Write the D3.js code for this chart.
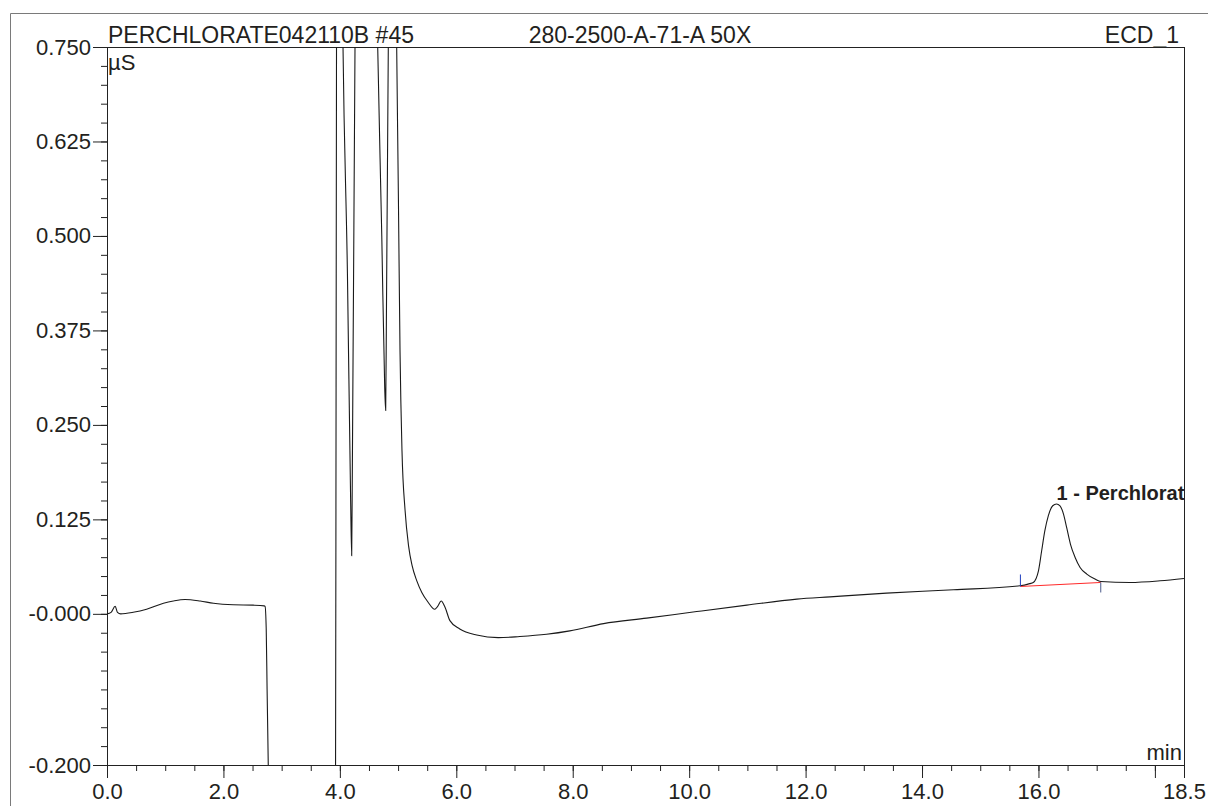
<!DOCTYPE html>
<html>
<head>
<meta charset="utf-8">
<script src="https://cdn.jsdelivr.net/npm/d3@7"></script>
<style>
  html, body { margin: 0; padding: 0; background: #fff; }
  svg { display: block; font-family: "Liberation Sans", Arial, sans-serif; }
</style>
</head>
<body>
<svg id="chart" width="1208" height="806"></svg>
<script>
// ---------- data ----------
const headerLeft = "PERCHLORATE042110B #45";
const headerMid = "280-2500-A-71-A 50X";
const headerRight = "ECD_1";
const yUnit = "µS";
const xUnit = "min";

const xDomain = [0, 18.5];
const yDomain = [-0.2, 0.75];

const xMajorTicks = [0, 2, 4, 6, 8, 10, 12, 14, 16, 18, 18.5];
const xTickLabels = ["0.0", "2.0", "4.0", "6.0", "8.0", "10.0", "12.0", "14.0", "16.0", "", "18.5"];
const xMinorStep = 0.5;

const yMajorTicks = [0.75, 0.625, 0.5, 0.375, 0.25, 0.125, 0.0, -0.2];
const yTickLabels = ["0.750", "0.625", "0.500", "0.375", "0.250", "0.125", "-0.000", "-0.200"];
const yMinorStep = 0.025;

// retention time (min) and conductivity (µS)
const timeMin = [
  0.00, 0.07, 0.14, 0.18, 0.235, 0.45, 0.68, 0.97, 1.14, 1.34, 1.60, 1.83, 2.17, 2.51, 2.70, 2.715,
  2.735, 2.75, 2.77, 2.80, 3.90, 3.925, 3.935, 3.945, 3.98, 4.02, 4.054, 4.13, 4.185, 4.203,
  4.215, 4.26, 4.32, 4.45, 4.58, 4.65, 4.72, 4.77, 4.787, 4.80, 4.832, 4.90, 4.976,
  5.006, 5.033, 5.067, 5.12, 5.18, 5.24, 5.32, 5.41, 5.51, 5.63, 5.68, 5.74, 5.81, 5.89,
  6.06, 6.35, 6.72, 7.09, 7.55, 7.95, 8.53, 9.27, 10.13, 10.99, 11.85, 12.42, 13.39, 14.54,
  15.68, 15.85, 15.91, 16.00, 16.055, 16.11, 16.17, 16.245, 16.31, 16.37, 16.43, 16.485,
  16.55, 16.63, 16.715, 16.83, 16.97, 17.07, 17.57, 18.09, 18.5
];
const signalUS = [
  0.000, 0.002, 0.010, 0.002, 0.000, 0.002, 0.006, 0.014, 0.017, 0.019, 0.017, 0.014, 0.012, 0.0115, 0.0106, 0.010,
  -0.020, -0.100, -0.200, -0.400, -0.400, -0.250, 0.300, 0.900, 1.500, 1.000, 0.750, 0.450, 0.150, 0.077,
  0.200, 0.750, 1.400, 1.600, 1.100, 0.750, 0.500, 0.300, 0.269, 0.400, 0.750, 1.400, 0.750,
  0.547, 0.349, 0.216, 0.137, 0.090, 0.064, 0.044, 0.028, 0.016, 0.006, 0.010, 0.017, 0.008, -0.009,
  -0.020, -0.028, -0.0315, -0.030, -0.027, -0.0225, -0.0129, -0.0057, 0.0030, 0.0115, 0.0195, 0.0225, 0.0274, 0.0318,
  0.0371, 0.0400, 0.0415, 0.0570, 0.0835, 0.1100, 0.1300, 0.1430, 0.1454, 0.1430, 0.1320, 0.1140,
  0.0920, 0.0746, 0.0614, 0.0526, 0.0460, 0.0428, 0.0415, 0.0437, 0.0468
];

const peakLabel = "1 - Perchlorate";
const peakTime = 16.31;
const peakValue = 0.1454;
const integrationStart = [15.69, 0.0362];
const integrationEnd = [17.07, 0.0415];

// ---------- drawing ----------
(function () {
const svg = d3.select("#chart");
const W = 1208, H = 806;
const mLeft = 107, mRight = 1184, mTop = 47, mBottom = 765;
const textColor = "#231f20";

const x = d3.scaleLinear().domain(xDomain).range([mLeft, mRight]);
const y = d3.scaleLinear().domain(yDomain).range([mBottom, mTop]);

// outer frame (only top/left visible)
svg.append("path")
  .attr("d", `M10.5,${H + 5} L10.5,13.5 L${W + 5},13.5`)
  .attr("fill", "none").attr("stroke", "#7a7a7a").attr("stroke-width", 1);

// headers
svg.append("text").attr("x", 108).attr("y", 43).attr("font-size", 23).attr("fill", textColor).text(headerLeft);
svg.append("text").attr("x", 640).attr("y", 43).attr("font-size", 23).attr("fill", textColor)
  .attr("text-anchor", "middle").text(headerMid);
svg.append("text").attr("x", 1179).attr("y", 43).attr("font-size", 23).attr("fill", textColor)
  .attr("text-anchor", "end").text(headerRight);

// minor ticks
const yMinor = d3.range(Math.round((yDomain[1] - yDomain[0]) / yMinorStep) + 1)
  .map(i => +(yDomain[0] + i * yMinorStep).toFixed(4));
const xMinor = d3.range(Math.round((xDomain[1] - xDomain[0]) / xMinorStep) + 1)
  .map(i => +(xDomain[0] + i * xMinorStep).toFixed(4));

const gyMinor = svg.append("g").attr("transform", `translate(${mLeft},0)`)
  .call(d3.axisLeft(y).tickValues(yMinor).tickSize(6).tickFormat(""));
gyMinor.select(".domain").remove();

const gyMajor = svg.append("g").attr("transform", `translate(${mLeft},0)`)
  .call(d3.axisLeft(y).tickValues(yMajorTicks).tickSize(14).tickPadding(2)
    .tickFormat((d, i) => yTickLabels[i]));
gyMajor.select(".domain").remove();

const gxMinor = svg.append("g").attr("transform", `translate(0,${mBottom})`)
  .call(d3.axisBottom(x).tickValues(xMinor).tickSize(6).tickFormat(""));
gxMinor.select(".domain").remove();

const gxMajor = svg.append("g").attr("transform", `translate(0,${mBottom})`)
  .call(d3.axisBottom(x).tickValues(xMajorTicks).tickSize(13).tickPadding(5)
    .tickFormat((d, i) => xTickLabels[i]));
gxMajor.select(".domain").remove();

svg.selectAll(".tick line").attr("stroke", "#222");
svg.selectAll(".tick text").attr("font-size", 22).attr("fill", textColor)
  .attr("font-family", '"Liberation Sans", Arial, sans-serif');

// plot box
svg.append("rect")
  .attr("x", mLeft + 0.5).attr("y", mTop + 0.5)
  .attr("width", mRight - mLeft).attr("height", mBottom - mTop)
  .attr("fill", "none").attr("stroke", "#222").attr("stroke-width", 1);

// unit labels
svg.append("text").attr("x", 108).attr("y", 70).attr("font-size", 22).attr("fill", textColor).text(yUnit);
svg.append("text").attr("x", 1182).attr("y", 760).attr("font-size", 22).attr("fill", textColor)
  .attr("text-anchor", "end").text(xUnit);

// clip
svg.append("clipPath").attr("id", "plotClip")
  .append("rect").attr("x", mLeft).attr("y", mTop).attr("width", mRight - mLeft + 0.5).attr("height", mBottom - mTop);

const plot = svg.append("g").attr("clip-path", "url(#plotClip)");

const data = timeMin.map((t, i) => [t, signalUS[i]]);
const line = d3.line().x(d => x(d[0])).y(d => y(d[1])).curve(d3.curveMonotoneX);

plot.append("path").datum(data)
  .attr("d", line).attr("fill", "none").attr("stroke", "#1a1a1a").attr("stroke-width", 1.1);

// integration baseline
plot.append("line")
  .attr("x1", x(integrationStart[0])).attr("y1", y(integrationStart[1]))
  .attr("x2", x(integrationEnd[0])).attr("y2", y(integrationEnd[1]))
  .attr("stroke", "#ff2a2a").attr("stroke-width", 1);
plot.append("line")
  .attr("x1", x(integrationStart[0])).attr("y1", y(integrationStart[1]))
  .attr("x2", x(integrationStart[0])).attr("y2", y(integrationStart[1]) - 12)
  .attr("stroke", "#1f3fbf").attr("stroke-width", 1);
plot.append("line")
  .attr("x1", x(integrationEnd[0])).attr("y1", y(integrationEnd[1]))
  .attr("x2", x(integrationEnd[0])).attr("y2", y(integrationEnd[1]) + 10)
  .attr("stroke", "#4a5a8a").attr("stroke-width", 1);

// peak label
plot.append("text")
  .attr("x", x(peakTime)).attr("y", y(peakValue) - 4)
  .attr("font-size", 20).attr("font-weight", "bold").attr("fill", textColor)
  .text(peakLabel);
})();
</script>
</body>
</html>
